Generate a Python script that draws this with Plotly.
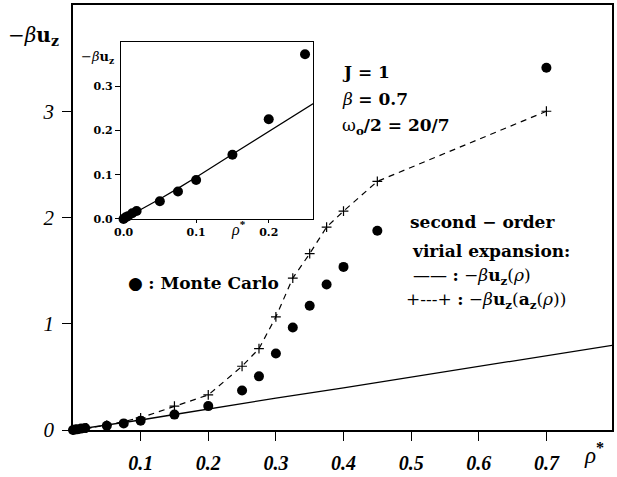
import plotly.graph_objects as go

# Monte Carlo results
rho_mc = [0.0, 0.003, 0.006, 0.012, 0.018, 0.05, 0.075, 0.1, 0.15, 0.2, 0.25,
          0.275, 0.3, 0.325, 0.35, 0.375, 0.4, 0.45, 0.7]
u_mc = [0.0, 0.004, 0.006, 0.013, 0.018, 0.04, 0.062, 0.088, 0.145, 0.225, 0.372,
        0.505, 0.72, 0.965, 1.17, 1.37, 1.535, 1.875, 3.41]

# second-order virial expansion, -beta u_z(rho)
rho_vir = [0.0, 0.025, 0.05, 0.075, 0.1, 0.15, 0.2, 0.25, 0.3, 0.4, 0.5, 0.6, 0.7, 0.8]
u_vir = [0.0, 0.022, 0.045, 0.069, 0.094, 0.146, 0.198, 0.25, 0.3, 0.397, 0.496,
         0.598, 0.7, 0.8]

# second-order virial expansion, -beta u_z(a_z(rho))
rho_az = [0.0, 0.01, 0.02, 0.05, 0.1, 0.15, 0.2, 0.25, 0.275, 0.3, 0.325, 0.35,
          0.375, 0.4, 0.45, 0.7]
u_az = [0.0, 0.01, 0.02, 0.045, 0.115, 0.225, 0.33, 0.6, 0.765, 1.065, 1.43, 1.66,
        1.91, 2.06, 2.34, 3.0]

x_ticks = [0.1, 0.2, 0.3, 0.4, 0.5, 0.6, 0.7]
y_ticks = [0, 1, 2, 3]
inset_x_ticks = [0.0, 0.1, 0.2]
inset_y_ticks = [0.0, 0.1, 0.2, 0.3]

W, H = 617, 477
L, R, T, B = 73, 5, 3, 35
PW, PH = W - L - R, H - T - B


def px(x):
    return (x - L) / PW


def py(y):
    return (H - B - y) / PH


SERIF = "Liberation Serif"
WIDE = "DejaVu Serif"

fig = go.Figure()

fig.add_trace(go.Scatter(x=rho_vir, y=u_vir, mode="lines",
                         line=dict(color="black", width=1.3), cliponaxis=True))
fig.add_trace(go.Scatter(x=rho_az, y=u_az, mode="lines+markers",
                         line=dict(color="black", width=1.2, dash="6px,5px"),
                         marker=dict(symbol="cross-thin", size=7,
                                     line=dict(color="black", width=1.2)),
                         cliponaxis=False))
fig.add_trace(go.Scatter(x=rho_mc, y=u_mc, mode="markers",
                         marker=dict(symbol="circle", size=10, color="black"),
                         cliponaxis=False))

# inset: low-density region
fig.add_trace(go.Scatter(x=rho_vir, y=u_vir, mode="lines", xaxis="x2", yaxis="y2",
                         line=dict(color="black", width=1.3)))
fig.add_trace(go.Scatter(x=rho_mc, y=u_mc, mode="markers", xaxis="x2", yaxis="y2",
                         marker=dict(symbol="circle", size=10, color="black"),
                         cliponaxis=False))

axis_common = dict(showgrid=False, zeroline=False, showline=True, linecolor="black",
                   ticks="outside", tickcolor="black")

fig.update_layout(
    width=W, height=H,
    margin=dict(l=L, r=R, t=T, b=B),
    paper_bgcolor="white", plot_bgcolor="white",
    showlegend=False,
    xaxis=dict(**axis_common, range=[0, 0.797], tickvals=x_ticks,
               ticktext=[f"{v:.1f}" for v in x_ticks],
               linewidth=1.6, mirror=True, ticklen=9, tickwidth=1.3,
               ticklabelstandoff=5,
               tickfont=dict(family=SERIF, size=20, style="italic", weight="bold",
                             color="black")),
    yaxis=dict(**axis_common, range=[0, 4.0], tickvals=y_ticks,
               ticktext=[str(v) for v in y_ticks],
               linewidth=1.6, mirror=True, ticklen=9, tickwidth=1.3,
               ticklabelstandoff=4,
               tickfont=dict(family=SERIF, size=21, style="italic", color="black")),
    xaxis2=dict(**axis_common, domain=[px(121), px(313)], anchor="y2",
                range=[-0.0035, 0.261], tickvals=inset_x_ticks,
                ticktext=[f"{v:.1f}" for v in inset_x_ticks],
                linewidth=1.3, mirror=True, ticklen=3, tickwidth=1,
                tickfont=dict(family=WIDE, size=11, weight="bold", color="black")),
    yaxis2=dict(**axis_common, domain=[py(224), py(41)], anchor="x2",
                range=[0, 0.4], tickvals=inset_y_ticks,
                ticktext=[f"{v:.1f}" for v in inset_y_ticks],
                linewidth=1.3, mirror=True, ticklen=5, tickwidth=1,
                tickfont=dict(family=WIDE, size=11, weight="bold", color="black")),
)

annotations = [
    # axis titles
    ("−<i>β</i><b>u<sub>z</sub></b>", 33, 35, "center", 20, WIDE),
    ("<i>ρ</i><sup><b>*</b></sup>", 594, 466, "center", 23, SERIF),
    ("−<i>β</i><b>u<sub>z</sub></b>", 97, 57, "center", 13, WIDE),
    ("<i>ρ</i><sup><b>*</b></sup>", 238, 234, "center", 16, SERIF),
    # parameters
    ("<b>J = 1</b>", 340, 72, "left", 17, WIDE),
    ("<i>β</i> <b>= 0.7</b>", 340, 100, "left", 17, WIDE),
    ("ω<sub><b>o</b></sub><b>/2 = 20/7</b>", 340, 128, "left", 17, WIDE),
    # key
    ("<b>second − order</b>", 408, 227, "left", 17, WIDE),
    ("<b>virial expansion:</b>", 410, 257, "left", 17, WIDE),
    ("—— <b>:</b> −<i>β</i><b>u<sub>z</sub></b>(<i>ρ</i>)", 411, 283, "left", 17, WIDE),
    ("+‐‐‐+ <b>:</b> −<i>β</i><b>u<sub>z</sub></b>(<b>a<sub>z</sub></b>(<i>ρ</i>))",
     404, 308, "left", 17, WIDE),
    ("● <b>: Monte Carlo</b>", 126, 290, "left", 17, WIDE),
]

for text, x, y, anchor, size, fam in annotations:
    fig.add_annotation(text=text, xref="paper", yref="paper", x=px(x), y=py(y),
                       xanchor=anchor, yanchor="middle", showarrow=False,
                       font=dict(family=fam, size=size, color="black"))

fig.write_html("out.html")
